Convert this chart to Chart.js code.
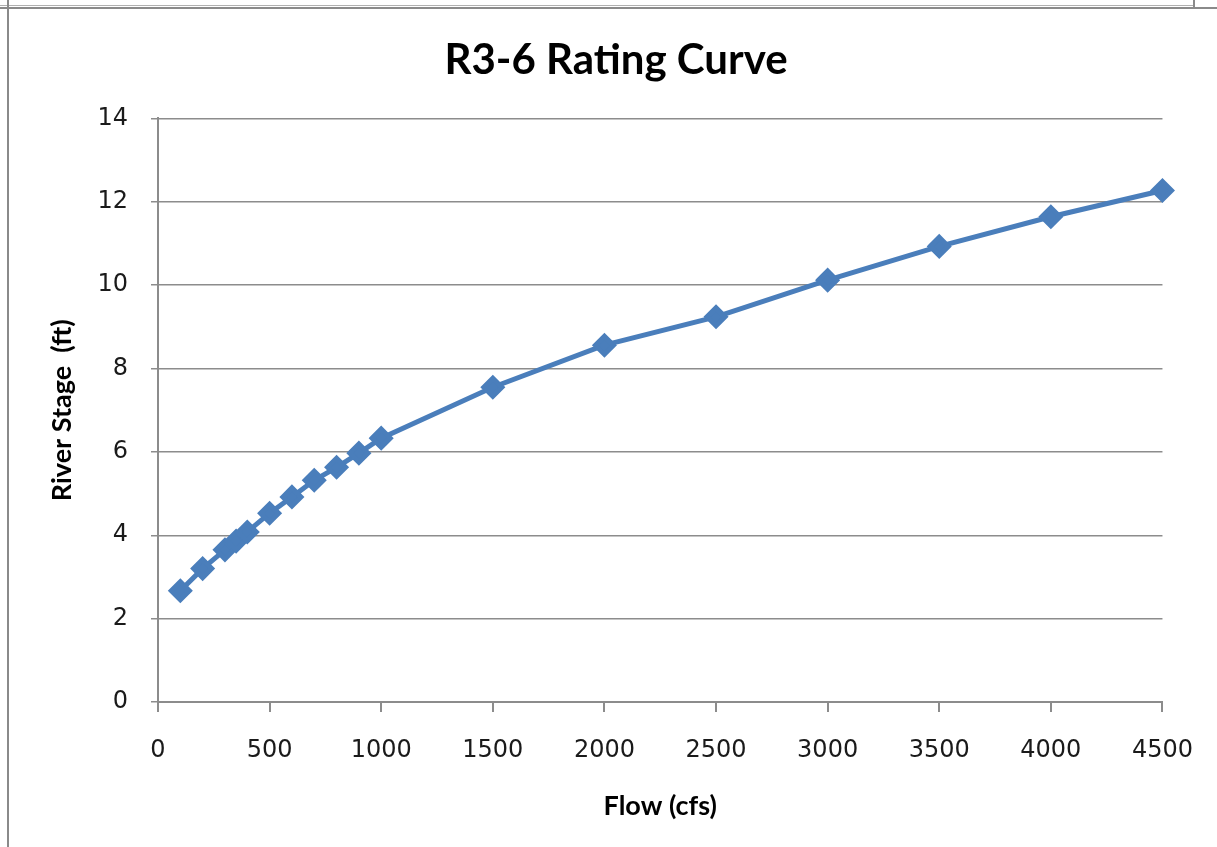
<!DOCTYPE html>
<html>
<head>
<meta charset="utf-8">
<script src="https://cdn.jsdelivr.net/npm/chart.js@4"></script>
<style>
  html, body { margin: 0; padding: 0; background: #fff; }
  #wrap { position: relative; width: 1217px; height: 847px; overflow: hidden; }
  #c { position: absolute; left: 0; top: 0; }
  .ln { position: absolute; background: #8a8a8a; }
</style>
</head>
<body>
<div id="wrap">
  <canvas id="c" width="1217" height="847"></canvas>
  <div class="ln" style="left:0;top:5px;width:1194px;height:1px;background:#b0b0b0"></div>
  <div class="ln" style="left:1193px;top:0;width:2px;height:8px;"></div>
  <div class="ln" style="left:0;top:7px;width:1217px;height:2px;"></div>
  <div class="ln" style="left:7px;top:0;width:2px;height:847px;"></div>
</div>
<script>
const chartTitle = "R3-6 Rating Curve";
const xAxisTitle = "Flow (cfs)";
const yAxisTitle = "River Stage  (ft)";
const flow  = [100, 200, 300, 350, 400, 500, 600, 700, 800, 900, 1000, 1500, 2000, 2500, 3000, 3500, 4000, 4500];
const stage = [2.67, 3.2, 3.65, 3.86, 4.08, 4.53, 4.92, 5.32, 5.63, 5.97, 6.33, 7.55, 8.56, 9.24, 10.12, 10.93, 11.64, 12.27];
const xTicks = [0, 500, 1000, 1500, 2000, 2500, 3000, 3500, 4000, 4500];
const yTicks = [0, 2, 4, 6, 8, 10, 12, 14];

const points = flow.map((f, i) => ({ x: f, y: stage[i] }));
const gray = '#8c8c8c';
const tickFont = { family: 'DejaVu Sans', size: 24 };

new Chart(document.getElementById('c'), {
  type: 'scatter',
  data: {
    datasets: [{
      data: points,
      showLine: true,
      clip: false,
      borderColor: '#4a7ebb',
      backgroundColor: '#4a7ebb',
      borderWidth: 5,
      pointStyle: 'rectRot',
      pointRadius: 9,
      pointHoverRadius: 9,
      tension: 0
    }]
  },
  options: {
    responsive: false,
    animation: false,
    layout: { padding: { left: 65, right: 50, top: 0, bottom: 0 } },
    plugins: {
      legend: { display: false },
      tooltip: { enabled: false },
      title: {
        display: true,
        text: chartTitle,
        color: '#000',
        font: { family: 'Lato', weight: 'bold', size: 42 },
        padding: { top: 35, bottom: 33 }
      }
    },
    scales: {
      x: {
        type: 'linear',
        min: 0, max: 4500,
        afterBuildTicks: s => { s.ticks = xTicks.map(v => ({ value: v })); },
        afterFit: s => { s.height = 145; },
        ticks: { color: '#1a1a1a', font: tickFont, padding: 24, maxRotation: 0, callback: v => String(v) },
        grid: { display: true, drawOnChartArea: false, color: gray, lineWidth: 2, tickLength: 10 },
        border: { display: true, color: gray, width: 2 },
        title: {
          display: true, text: xAxisTitle, color: '#000',
          font: { family: 'Lato', weight: 'bold', size: 27 },
          padding: { top: 0, bottom: 25 }
        }
      },
      y: {
        type: 'linear',
        min: 0, max: 14,
        afterBuildTicks: s => { s.ticks = yTicks.map(v => ({ value: v })); },
        afterFit: s => { s.width = 93; },
        ticks: { color: '#1a1a1a', font: tickFont, padding: 23, callback: v => String(v) },
        grid: { display: true, color: gray, lineWidth: 1.5, tickLength: 7 },
        border: { display: true, color: gray, width: 2 },
        title: {
          display: true, text: yAxisTitle, color: '#000',
          font: { family: 'Lato', weight: 'bold', size: 27 },
          padding: { top: -19, bottom: 0 }
        }
      }
    }
  }
});
</script>
</body>
</html>
